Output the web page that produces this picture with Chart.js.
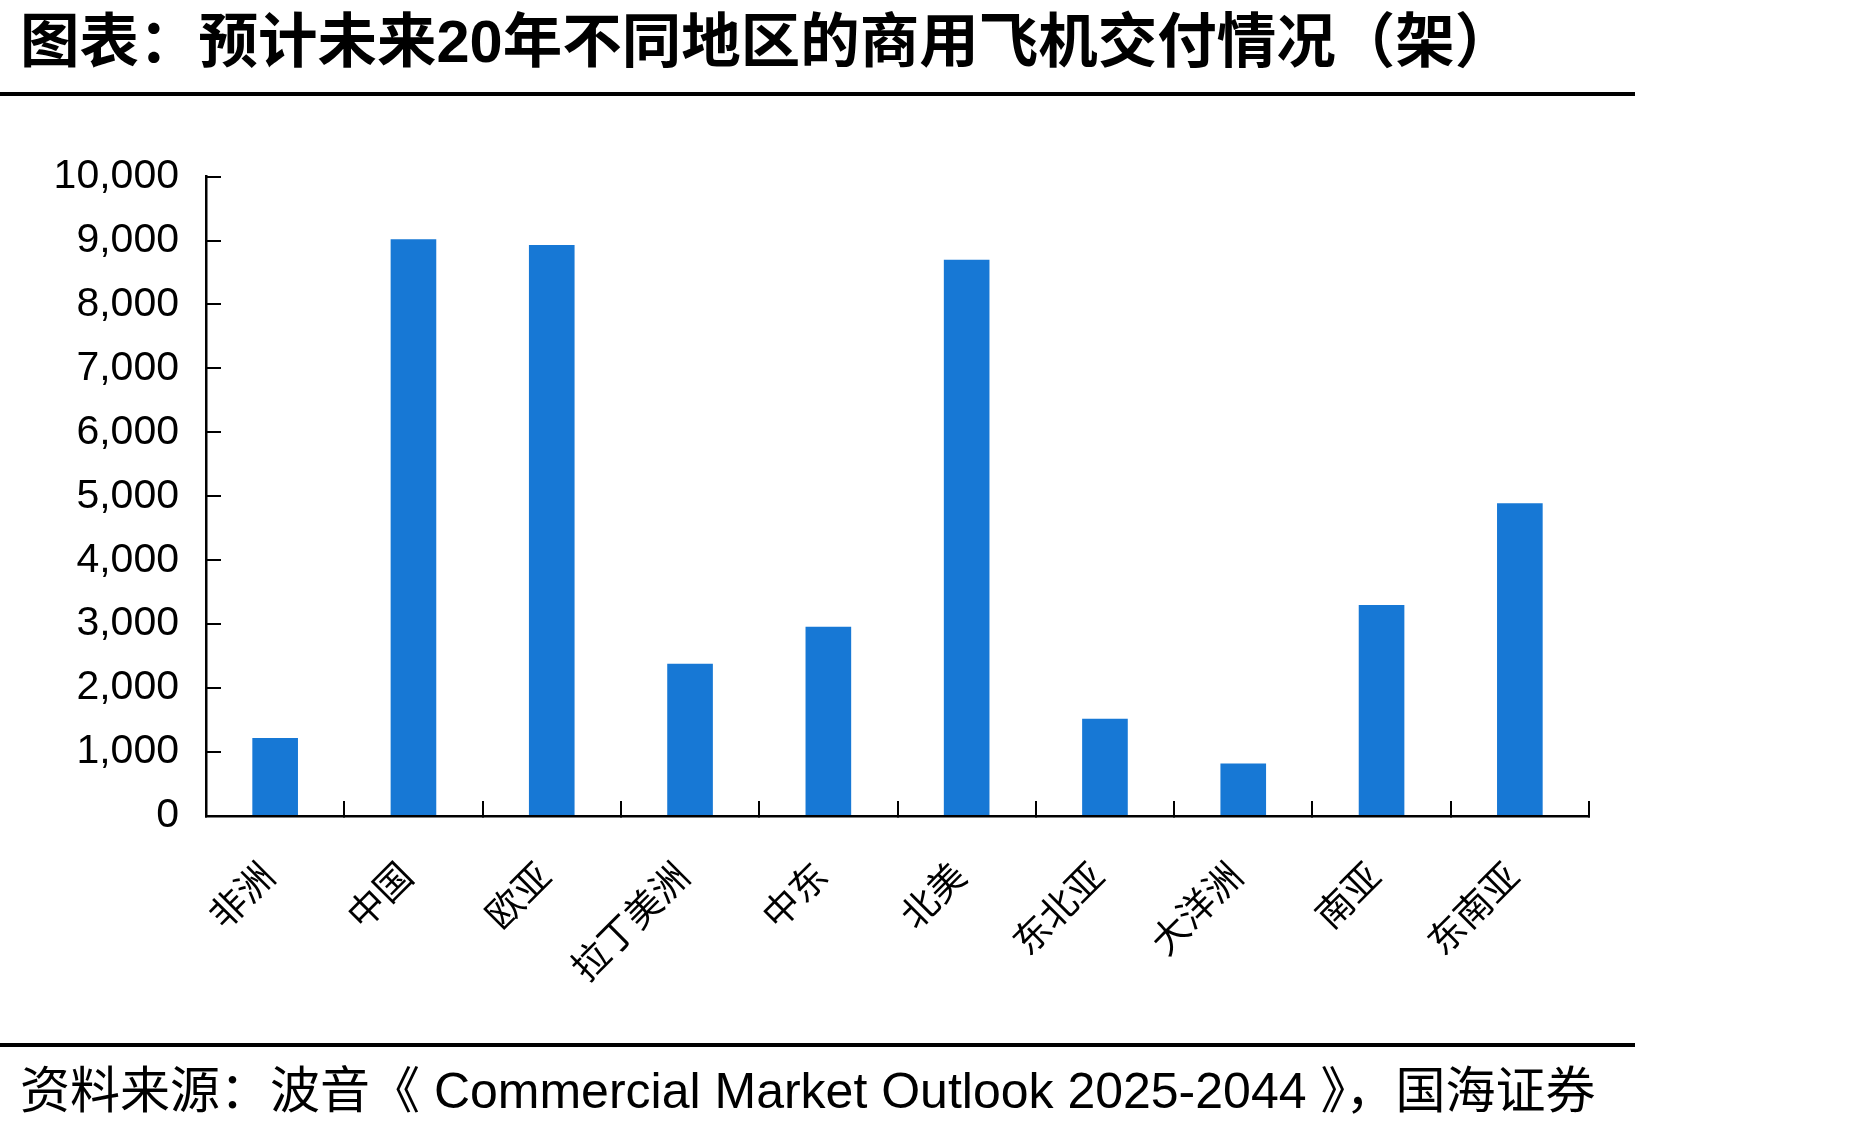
<!DOCTYPE html>
<html>
<head>
<meta charset="utf-8">
<script src="https://cdn.jsdelivr.net/npm/chart.js@4/dist/chart.umd.min.js"></script>
<style>
  body { margin: 0; background: #fff; width: 1868px; height: 1126px; position: relative; overflow: hidden; }
  .title { position: absolute; left: 20px; top: -7px; font-family: "Liberation Sans", "Noto Sans CJK SC"; font-weight: bold; font-size: 59.5px; color: #000; white-space: nowrap; }
  .rule { position: absolute; left: 0; width: 1635px; height: 4px; background: #000; }
  .source { position: absolute; left: 20px; top: 1050px; font-family: "Liberation Sans", "Noto Sans CJK SC"; font-size: 50px; color: #000; white-space: nowrap; }
  #box { position: absolute; left: 0; top: 110px; width: 1640px; height: 930px; }
</style>
</head>
<body>
<div class="title">图表：预计未来20年不同地区的商用飞机交付情况（架）</div>
<div class="rule" style="top:92px"></div>
<div id="box"><canvas id="bar"></canvas></div>
<div class="rule" style="top:1043px"></div>
<div class="source">资料来源：波音《 Commercial Market Outlook 2025-2044 》，国海证券</div>
<script>
const regions = ["非洲", "中国", "欧亚", "拉丁美洲", "中东", "北美", "东北亚", "大洋洲", "南亚", "东南亚"];
const deliveries = [1220, 9020, 8930, 2380, 2960, 8700, 1520, 820, 3300, 4890];
const yTicks = [0, 1000, 2000, 3000, 4000, 5000, 6000, 7000, 8000, 9000, 10000];

const ctx = document.getElementById("bar");

new Chart(ctx, {
  type: "bar",
  data: {
    labels: regions,
    datasets: [
      {
        label: "商用飞机交付",
        data: deliveries,
        backgroundColor: "#1778d5",
        borderWidth: 0,
        categoryPercentage: 1,
        barPercentage: 0.33,
      },
    ],
  },
  options: {
    responsive: true,
    maintainAspectRatio: false,
    animation: false,
    layout: { padding: { top: 60, right: 51, left: 0, bottom: 0 } },
    plugins: { legend: { display: false }, tooltip: { enabled: false } },
    scales: {
      x: {
        border: { display: true, color: "#000", width: 2.5 },
        grid: { drawOnChartArea: false, color: "#000", lineWidth: 2, tickLength: -15 },
        ticks: {
          color: "#000",
          font: { family: "Noto Sans CJK SC", size: 37 },
          maxRotation: 45,
          minRotation: 45,
          autoSkip: false,
          padding: 52,
          labelOffset: -8,
        },
        afterFit: (scale) => { scale.height = 224; },
      },
      y: {
        min: 0,
        max: 10000,
        afterBuildTicks: (scale) => { scale.ticks = yTicks.map((v) => ({ value: v })); },
        border: { display: true, color: "#000", width: 2.5 },
        grid: { drawOnChartArea: false, color: "#000", lineWidth: 2, tickLength: -15 },
        ticks: {
          color: "#000",
          font: { family: "Liberation Sans", size: 41 },
          padding: 42,
          callback: (v) => v.toLocaleString("en-US"),
        },
        afterFit: (scale) => { scale.width = 206; },
      },
    },
  },
});
</script>
</body>
</html>
